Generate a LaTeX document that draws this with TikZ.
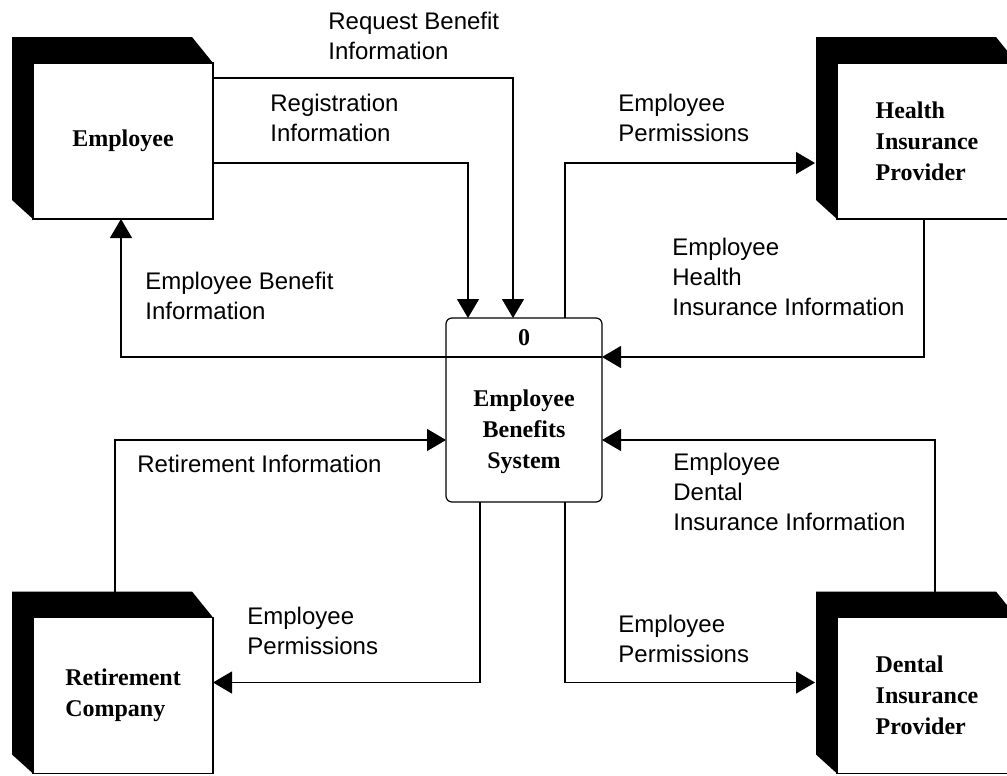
\documentclass[tikz,border=0pt]{standalone}
\usepackage{fontspec}
\usepackage{tikz}
\usetikzlibrary{arrows.meta, calc, positioning}
\newfontfamily\flowfont{Liberation Sans}
\newfontfamily\boxfont{Liberation Serif}

\begin{document}
\begin{tikzpicture}[x=0.5pt, y=-0.5pt,
    entity/.style={draw, line width=0.6pt, fill=white, minimum width=90pt, minimum height=78pt,
        inner sep=0pt, outer sep=0pt, align=left, font=\boxfont\bfseries\fontsize{12}{15.5}\selectfont},
    process/.style={draw, line width=0.6pt, rounded corners=3pt, minimum width=78pt, minimum height=92pt,
        inner sep=0pt, outer sep=0pt},
    ptext/.style={align=center, inner sep=0pt, font=\boxfont\bfseries\fontsize{12}{15.5}\selectfont},
    flowlabel/.style={anchor=west, align=left, inner sep=0pt, font=\flowfont\fontsize{12}{15}\selectfont},
    flow/.style={line width=0.6pt, -{Triangle[width=11pt, length=9.5pt]}}]
    \useasboundingbox (0, 0) rectangle (1007, 776);
    \clip (0, 0) rectangle (1007, 776);

    % external entities
    \node[entity] (emp) at (123, 141) {Employee};
    \node[entity] (hip) at (927, 141) {Health\\Insurance\\Provider};
    \node[entity] (ret) at (123, 695.5) {Retirement\\Company};
    \node[entity] (dip) at (927, 695.5) {Dental\\Insurance\\Provider};

    \foreach \n in {emp, hip, ret, dip} {
        \fill
        ($(\n.north west) + (-21, -26)$) -- ($(\n.north east) + (-21, -26)$) -- (\n.north east)
        -- (\n.north west) -- (\n.south west) -- ($(\n.south west) + (-21, -19)$) -- cycle;
    }

    % process
    \node[process] (proc) at (524, 410) {};
    \draw[line width=0.6pt] ($(proc.north west) + (0, 39)$) -- ($(proc.north east) + (0, 39)$);
    \node[ptext] (procid) at (524, 338) {0};
    \node[ptext] (procname) at (524, 432) {Employee\\Benefits\\System};

    % data flows
    \draw[flow] ($(emp.north east) + (0, 15)$) -| ($(proc.north west) + (67, 0)$);
    \draw[flow] ($(emp.north east) + (0, 100)$) -| ($(proc.north west) + (22, 0)$);
    \draw[flow] ($(proc.north west) + (119, 0)$) |- ($(hip.north west) + (-22, 100)$);
    \draw[flow] ($(hip.south west) + (87, 0)$) |- ($(proc.north east) + (0, 39)$);
    \draw[flow] ($(proc.north west) + (0, 39)$) -| ($(emp.south west) + (88, 0)$);
    \draw[flow] ($(ret.north west) + (82, -26)$) |- ($(proc.north west) + (0, 122)$);
    \draw[flow] ($(dip.north west) + (98, -26)$) |- ($(proc.north east) + (0, 122)$);
    \draw[flow] ($(proc.south west) + (34, 0)$) |- ($(ret.north east) + (0, 65)$);
    \draw[flow] ($(proc.south west) + (119, 0)$) |- ($(dip.north west) + (-22, 65)$);

    % labels
    \node[flowlabel] (lreq) at (328, 36) {Request Benefit\\Information};
    \node[flowlabel] (lreg) at (270, 118) {Registration\\Information};
    \node[flowlabel] (lhperm) at (618, 118) {Employee\\Permissions};
    \node[flowlabel] (lhinfo) at (672, 277) {Employee\\Health\\Insurance Information};
    \node[flowlabel] (lbinfo) at (145, 296) {Employee Benefit\\Information};
    \node[flowlabel] (lrinfo) at (137, 464) {Retirement Information};
    \node[flowlabel] (ldinfo) at (673, 492) {Employee\\Dental\\Insurance Information};
    \node[flowlabel] (lrperm) at (247, 631) {Employee\\Permissions};
    \node[flowlabel] (ldperm) at (618, 639) {Employee\\Permissions};
\end{tikzpicture}
\end{document}
